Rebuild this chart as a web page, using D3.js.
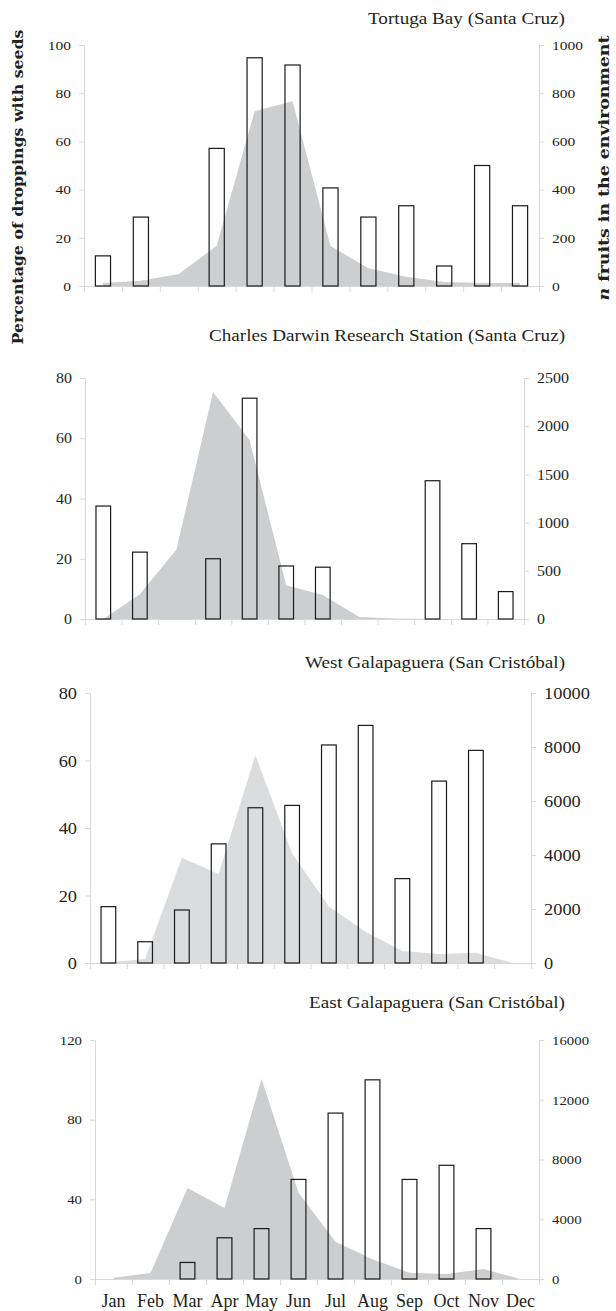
<!DOCTYPE html>
<html>
<head>
<meta charset="utf-8">
<script src="https://cdn.jsdelivr.net/npm/d3@7"></script>
<style>
body { margin: 0; background: #fff; }
.axis path, .axis line { stroke: #d9d9d9; }
</style>
</head>
<body>
<svg id="chart" width="616" height="1311"></svg>
<script>
var months = ["Jan", "Feb", "Mar", "Apr", "May", "Jun", "Jul", "Aug", "Sep", "Oct", "Nov", "Dec"];

// % droppings with seeds (bars) and n fruits (grey area), per site
var tortugaPct = [12.5, 28.6, null, 57.1, 94.7, 91.7, 40.7, 28.6, 33.3, 8.3, 50, 33.3];
var tortugaFruits = [12, 22, 50, 167, 725, 767, 166, 74, 38, 17, 12, 12];
var darwinPct = [37.5, 22.2, null, 20, 73.3, 17.6, 17.2, null, null, 45.9, 25, 9.1];
var darwinFruits = [0, 256, 720, 2355, 1855, 350, 250, 20, 5, 0, 0, 0];
var westPct = [16.7, 6.3, 15.7, 35.3, 46, 46.7, 64.6, 70.4, 25, 53.9, 63, null];
var westFruits = [20, 150, 3900, 3300, 7700, 4060, 2090, 1160, 440, 330, 380, 0];
var eastPct = [null, null, 8.3, 20.7, 25.3, 50, 83.3, 100, 50, 57.1, 25.3, null];
var eastFruits = [90, 400, 6090, 4750, 13400, 5780, 2500, 1320, 420, 330, 670, 0];

var tortugaPctTicks = [0, 20, 40, 60, 80, 100];
var tortugaFruitTicks = [0, 200, 400, 600, 800, 1000];
var darwinPctTicks = [0, 20, 40, 60, 80];
var darwinFruitTicks = [0, 500, 1000, 1500, 2000, 2500];
var westPctTicks = [0, 20, 40, 60, 80];
var westFruitTicks = [0, 2000, 4000, 6000, 8000, 10000];
var eastPctTicks = [0, 40, 80, 120];
var eastFruitTicks = [0, 4000, 8000, 12000, 16000];

var SERIF = "'Liberation Serif', Tinos, 'Times New Roman', Times, 'DejaVu Serif', serif";

var panels = [
    {title: "Tortuga Bay (Santa Cruz)", pct: tortugaPct, fruits: tortugaFruits,
     pctTicks: tortugaPctTicks, fruitTicks: tortugaFruitTicks,
     left: 84, right: 539, top: 45, base: 286, titleY: 24, titleW: 197, titleSize: 16,
     labelSize: 13.5, stretch: 1.15, fill: "#cdcecf"},
    {title: "Charles Darwin Research Station (Santa Cruz)", pct: darwinPct, fruits: darwinFruits,
     pctTicks: darwinPctTicks, fruitTicks: darwinFruitTicks,
     left: 85, right: 524, top: 378, base: 619, titleY: 341, titleW: 356, titleSize: 16,
     labelSize: 14.5, stretch: 1.1, fill: "#cdcecf"},
    {title: "West Galapaguera (San Crist\u00f3bal)", pct: westPct, fruits: westFruits,
     pctTicks: westPctTicks, fruitTicks: westFruitTicks,
     left: 90, right: 531, top: 693, base: 963, titleY: 668, titleW: 260, titleSize: 17,
     labelSize: 17.5, stretch: 1.05, fill: "#dbdcdd"},
    {title: "East Galapaguera (San Crist\u00f3bal)", pct: eastPct, fruits: eastFruits,
     pctTicks: eastPctTicks, fruitTicks: eastFruitTicks,
     left: 95, right: 539, top: 1040, base: 1279, titleY: 1008, titleW: 256, titleSize: 17,
     labelSize: 13.5, stretch: 1.1, fill: "#cdcecf", monthLabels: true}
];

var svg = d3.select("#chart");

function stretchText(sel, k) {
    sel.each(function() {
        var l = this.getComputedTextLength();
        d3.select(this).attr("textLength", l * k).attr("lengthAdjust", "spacingAndGlyphs");
    });
}

panels.forEach(function(p) {
    var g = svg.append("g");
    var x = d3.scaleBand().domain(months).range([p.left, p.right])
        .paddingInner(0.6).paddingOuter(0.3);
    var xLin = d3.scaleLinear().domain([0, 12]).range([p.left, p.right]);
    var yL = d3.scaleLinear().domain([0, d3.max(p.pctTicks)]).range([p.base, p.top]);
    var yR = d3.scaleLinear().domain([0, d3.max(p.fruitTicks)]).range([p.base, p.top]);

    // fruits area
    var area = d3.area()
        .x(function(d, i) { return x(months[i]) + x.bandwidth() / 2; })
        .y0(p.base)
        .y1(function(d) { return yR(d); });
    g.append("path").datum(p.fruits).attr("d", area).attr("fill", p.fill);

    // axes
    var la = g.append("g").attr("class", "axis").attr("transform", "translate(" + p.left + ",0)")
        .call(d3.axisLeft(yL).tickValues(p.pctTicks).tickFormat(d3.format("d"))
            .tickSize(5).tickSizeOuter(0).tickPadding(8));
    var ra = g.append("g").attr("class", "axis").attr("transform", "translate(" + p.right + ",0)")
        .call(d3.axisRight(yR).tickValues(p.fruitTicks).tickFormat(d3.format("d"))
            .tickSize(5).tickSizeOuter(0).tickPadding(8));
    g.append("g").attr("class", "axis").attr("transform", "translate(0," + p.base + ")")
        .call(d3.axisBottom(xLin).tickValues(d3.range(13)).tickSize(6).tickSizeOuter(0).tickFormat(""));
    [la, ra].forEach(function(a) {
        a.attr("font-family", SERIF).attr("font-size", p.labelSize);
        a.selectAll("text").style("font-family", SERIF).style("font-size", p.labelSize + "px")
            .style("fill", "#231f20");
        stretchText(a.selectAll("text"), p.stretch);
    });

    if (p.monthLabels) {
        var ma = g.append("g").attr("transform", "translate(0," + p.base + ")")
            .call(d3.axisBottom(x).tickSize(0).tickPadding(15));
        ma.select(".domain").remove();
        ma.attr("font-family", SERIF).attr("font-size", 18);
        ma.selectAll("text").style("font-family", SERIF).style("font-size", "18px")
            .style("fill", "#231f20");
    }

    // bars
    g.selectAll("rect.bar")
        .data(p.pct.map(function(v, i) { return {m: months[i], v: v}; })
            .filter(function(d) { return d.v != null; }))
        .enter().append("rect")
        .attr("class", "bar")
        .attr("x", function(d) { return x(d.m); })
        .attr("width", x.bandwidth())
        .attr("y", function(d) { return yL(d.v); })
        .attr("height", function(d) { return p.base - yL(d.v); })
        .attr("fill", "none")
        .attr("stroke", "#1a1a1a")
        .attr("stroke-width", 1.2);

    // title
    g.append("text")
        .attr("x", 565).attr("y", p.titleY)
        .attr("text-anchor", "end")
        .style("font-family", SERIF)
        .style("font-size", p.titleSize + "px")
        .style("fill", "#231f20")
        .attr("textLength", p.titleW).attr("lengthAdjust", "spacingAndGlyphs")
        .text(p.title);
});

// axis titles
svg.append("text")
    .attr("transform", "translate(23,187) rotate(-90)")
    .attr("text-anchor", "middle")
    .style("font-family", "'DejaVu Serif', serif")
    .style("font-weight", "bold")
    .style("font-size", "15.5px")
    .style("fill", "#231f20")
    .attr("textLength", 315).attr("lengthAdjust", "spacingAndGlyphs")
    .text("Percentage of droppings with seeds");

var rt = svg.append("text")
    .attr("transform", "translate(609,168) rotate(-90)")
    .attr("text-anchor", "middle")
    .style("font-family", "'DejaVu Serif', serif")
    .style("font-weight", "bold")
    .style("font-size", "15.5px")
    .style("fill", "#231f20")
    .attr("textLength", 265).attr("lengthAdjust", "spacingAndGlyphs");
rt.append("tspan").style("font-style", "italic").text("n");
rt.append("tspan").text(" fruits in the environment");
</script>
</body>
</html>
